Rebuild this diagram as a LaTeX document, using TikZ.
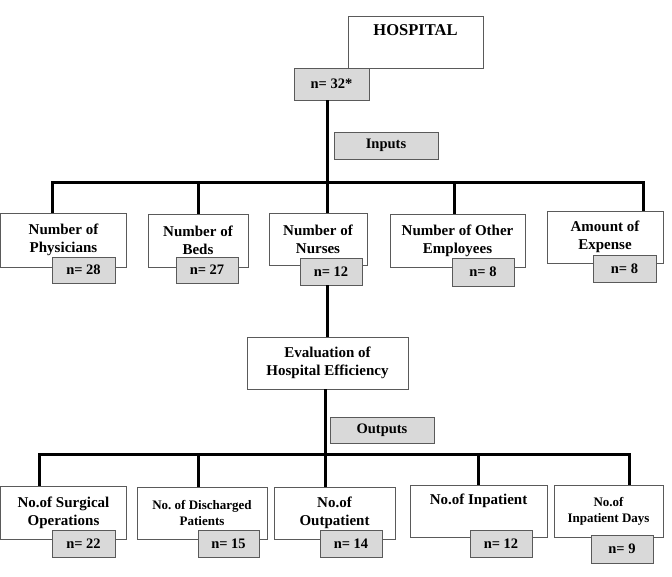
\documentclass[tikz,border=0pt]{standalone}
\usepackage{fontspec}
\setmainfont{Liberation Serif}
\usetikzlibrary{positioning}

\definecolor{edgegray}{HTML}{5A5A5A}
\definecolor{tagfill}{HTML}{D9D9D9}

\begin{document}
\begin{tikzpicture}[x=1pt, y=-1pt]
	\tikzstyle{blk}=[draw=edgegray, line width=0.8pt, fill=white, align=center, inner sep=0pt, font=\fontsize{15}{18}\selectfont\bfseries]
	\tikzstyle{sblk}=[blk, font=\fontsize{13}{16}\selectfont\bfseries]
	\tikzstyle{tag}=[blk, fill=tagfill, font=\fontsize{14.5}{17}\selectfont\bfseries]
	\tikzstyle{bus}=[line width=3pt, line join=miter]
	\useasboundingbox (0,0) rectangle (672,576);

	% top of the tree
	\node[blk, font=\fontsize{16.5}{18}\selectfont\bfseries, minimum width=135, minimum height=52] (hosp) at (415.5,42) {HOSPITAL\\ \strut};
	\node[tag, minimum width=75, minimum height=32] (n32) at (331.5,84) {n= 32*};

	% inputs
	\node[blk, minimum width=126, minimum height=54] (phys) at (63.5,240) {Number of\\Physicians};
	\node[blk, minimum width=100, minimum height=53] (beds) at (198,240.5) {Number of\\Beds};
	\node[blk, minimum width=98, minimum height=52] (nurses) at (318,239) {Number of\\Nurses};
	\node[blk, minimum width=135, minimum height=53] (other) at (457.5,240.5) {Number of Other\\Employees};
	\node[blk, minimum width=116, minimum height=52] (expense) at (605,237) {Amount of\\Expense};
	\node[tag, minimum width=63, minimum height=26] (n28) at (83.5,270) {n= 28};
	\node[tag, minimum width=62, minimum height=26] (n27) at (207,270) {n= 27};
	\node[tag, minimum width=62, minimum height=27] (n12) at (331,271.5) {n= 12};
	\node[tag, minimum width=62, minimum height=28] (n8a) at (483,272) {n= 8};
	\node[tag, minimum width=63, minimum height=27] (n8b) at (624.5,268.5) {n= 8};

	\node[blk, minimum width=161, minimum height=52] (eval) at (327.5,363) {Evaluation of\\Hospital Efficiency};

	% outputs
	\node[blk, minimum width=126, minimum height=53] (surg) at (63.5,512.5) {No.of Surgical\\Operations};
	\node[sblk, minimum width=130, minimum height=52] (disch) at (202,513) {No.\ of Discharged\\Patients};
	\node[blk, minimum width=121, minimum height=52] (outp) at (334.5,513) {No.of\\Outpatient};
	\node[blk, minimum width=137, minimum height=52] (inp) at (478.5,511) {No.of Inpatient\\ \strut};
	\node[sblk, minimum width=109, minimum height=52] (days) at (608.5,511) {No.of\\Inpatient Days};
	\node[tag, minimum width=63, minimum height=27] (n22) at (83.5,543.5) {n= 22};
	\node[tag, minimum width=61, minimum height=27] (n15) at (228.5,543.5) {n= 15};
	\node[tag, minimum width=62, minimum height=27] (n14) at (351,543.5) {n= 14};
	\node[tag, minimum width=62, minimum height=27] (n12b) at (501,543.5) {n= 12};
	\node[tag, minimum width=62, minimum height=28] (n9) at (622,549) {n= 9};

	% labels on the trunks
	\node[tag, minimum width=104, minimum height=27] (inputs) at (386,145.5) {Inputs};
	\node[tag, minimum width=104, minimum height=26] (outputs) at (382,430) {Outputs};

	% input bus
	\coordinate (in1) at (52,182);
	\coordinate (in2) at (198,182);
	\coordinate (in3) at (327.5,182);
	\coordinate (in4) at (454,182);
	\coordinate (in5) at (643,182);
	\draw[bus] (in1 |- phys.north) -- (in1) -- (in5) -- (in5 |- expense.north);
	\draw[bus] (in2) -- (in2 |- beds.north);
	\draw[bus] (in3 |- n32.south) -- (in3 |- nurses.north);
	\draw[bus] (in4) -- (in4 |- other.north);
	\draw[bus] (in3 |- n12.south) -- (in3 |- eval.north);

	% output bus
	\coordinate (out1) at (39,454);
	\coordinate (out2) at (198,454);
	\coordinate (out3) at (325.5,454);
	\coordinate (out4) at (478,454);
	\coordinate (out5) at (629,454);
	\draw[bus] (out1 |- surg.north) -- (out1) -- (out5) -- (out5 |- days.north);
	\draw[bus] (out2) -- (out2 |- disch.north);
	\draw[bus] (out3 |- eval.south) -- (out3 |- outp.north);
	\draw[bus] (out4) -- (out4 |- inp.north);
\end{tikzpicture}
\end{document}
